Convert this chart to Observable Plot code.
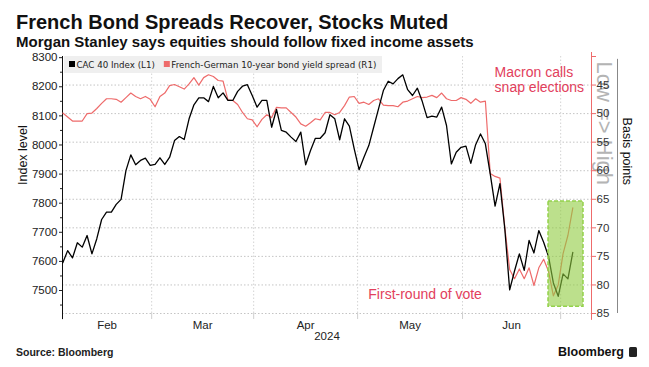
<!DOCTYPE html>
<html><head><meta charset="utf-8">
<script src="https://cdn.jsdelivr.net/npm/d3@7"></script>
<script src="https://cdn.jsdelivr.net/npm/@observablehq/plot@0.6"></script>
<style>
body{margin:0;background:#fff;}
#wrap{position:relative;width:649px;height:367px;overflow:hidden;font-family:"Liberation Sans",Arial,sans-serif;color:#111;}
#chart{position:absolute;left:0;top:0;}
.t{position:absolute;white-space:nowrap;font-weight:bold;}
#title{left:16px;top:12px;font-size:20px;line-height:20px;}
#subtitle{left:16px;top:34px;font-size:15px;line-height:15px;}
#source{left:16px;top:347px;font-size:10.5px;line-height:10.5px;color:#222;}
#logo{left:558px;top:346px;font-size:12.5px;line-height:12.5px;color:#111;}
#logo span{display:inline-block;width:8px;height:10px;background:#222;border-radius:1.5px;margin-left:5px;vertical-align:-1px;}
</style></head>
<body>
<div id="wrap">
  <div id="chart"></div>
  <div class="t" id="title">French Bond Spreads Recover, Stocks Muted</div>
  <div class="t" id="subtitle">Morgan Stanley says equities should follow fixed income assets</div>
  <div class="t" id="source">Source: Bloomberg</div>
  <div class="t" id="logo">Bloomberg<span></span></div>
</div>
<script>
// CAC 40 index level, one value per trading day (Feb 2 – Jul 3, 2024)
const cac = [7595, 7637, 7612, 7664, 7649, 7689, 7626, 7678, 7744, 7769,
  7769, 7796, 7813, 7912, 7966, 7932, 7947, 7955, 7930, 7933,
  7956, 7933, 7958, 8015, 8029, 8019, 8090, 8138, 8162, 8162,
  8149, 8201, 8162, 8179, 8153, 8153, 8184, 8202, 8207, 8170,
  8130, 8153, 8153, 8061, 8122, 8050, 8044, 8027, 8012, 8044,
  7932, 7981, 8023, 8023, 8042, 8104, 8090, 8018, 8090, 8065,
  7987, 7915, 7958, 7998, 8061, 8124, 8187, 8219, 8210, 8228,
  8241, 8190, 8170, 8195, 8150, 8094, 8099, 8096, 8130, 8067,
  7935, 7975, 7992, 7996, 7937, 8001, 8038, 8004, 7901, 7790,
  7867, 7712, 7502, 7567, 7626, 7569, 7672, 7629, 7706, 7666,
  7617, 7526, 7480, 7557, 7540, 7631];
// French-German 10-year bond yield spread, basis points
const spread = [49.9, 50.6, 51.3, 51.3, 51.3, 50.0, 49.9, 49.1, 48.2, 47.4,
  47.4, 47.5, 48.0, 47.2, 46.4, 47.0, 47.4, 47.0, 47.5, 48.8,
  47.0, 46.4, 45.1, 44.9, 45.3, 45.7, 44.8, 43.7, 45.0, 43.7,
  43.2, 43.5, 44.2, 44.3, 47.6, 47.7, 48.4, 49.8, 50.9, 51.1,
  52.3, 51.0, 50.2, 50.7, 48.9, 49.0, 49.0, 49.8, 50.6, 51.8,
  52.2, 51.6, 50.9, 51.1, 49.8, 49.8, 50.2, 49.8, 48.6, 47.1,
  47.0, 48.2, 48.0, 48.4, 47.7, 47.4, 48.5, 48.6, 48.6, 48.8,
  48.0, 47.8, 47.4, 47.0, 47.2, 47.1, 46.8, 47.2, 46.4, 47.4,
  47.7, 47.7, 47.2, 47.5, 48.2, 47.4, 48.0, 47.8, 60.5, 61.0,
  61.3, 69.9, 77.3, 78.9, 77.2, 78.9, 77.0, 80.1, 77.0, 75.5,
  77.6, 81.9, 80.0, 74.5, 71.3, 66.5];
const monthNames = ["Feb", "Mar", "Apr", "May", "Jun"];
const monthBounds = [18.3, 39.3, 60.7, 82.3, 102.5]; // trading-day position of month boundaries
const leftTicks = d3.range(7500, 8301, 100);
const leftMinor = d3.range(7450, 8251, 100);
const rightTicks = d3.range(40, 86, 5);
const gridSpread = d3.range(45, 86, 5);
const noteTop = [{i: 88.9, s: 41.7, text: "Macron calls\nsnap elections"}];
const noteMid = [{i: 62.9, s: 81.7, text: "First-round of vote"}];
const highlight = [{i1: 100.0, i2: 107.2, s1: 65.4, s2: 83.8}];
const legendItems = ["CAC 40 Index (L1)", "French-German 10-year bond yield spread (R1)"];

const X = [-0.06, 108.85];
const Y = [7421, 8304];
const S = [40, 85];
const toCac = d3.scaleLinear(S, [Y[1], Y[0]]);
const data = cac.map((v, i) => ({i, cac: v, spread: spread[i]}));
const mids = monthBounds.map((b, k) => ((k === 0 ? X[0] : monthBounds[k - 1]) + b) / 2);
const nameAt = new Map(mids.map((m, k) => [m, monthNames[k]]));
const RED = "#ee6b6b";
const NOTE = "#e2405c";

const chart = Plot.plot({
  width: 649, height: 367,
  marginTop: 56, marginBottom: 54, marginLeft: 62, marginRight: 58,
  style: {fontFamily: "Liberation Sans, Arial, sans-serif", fontSize: "11.5px", color: "#222", background: "transparent", overflow: "visible"},
  x: {domain: X, axis: null},
  y: {domain: Y, axis: null},
  marks: [
    Plot.ruleY(gridSpread.map(toCac), {stroke: "#c4c4c4", strokeDasharray: "1.5,2"}),
    Plot.ruleX(monthBounds, {stroke: "#d4d4d4", strokeDasharray: "1.5,2"}),
    Plot.axisX({ticks: monthBounds, tickSize: 6, tickFormat: () => "", stroke: "#cfcfcf", label: null}),
    Plot.axisX({ticks: mids, tickSize: 0, tickPadding: 7, tickFormat: d => nameAt.get(d), fontSize: 11.5, label: null}),
    Plot.text(["2024"], {text: d => d, frameAnchor: "bottom", dy: 26, fontSize: 11.5}),
    Plot.axisY({anchor: "left", ticks: leftTicks, tickSize: 3, tickPadding: 2, tickFormat: d3.format("d"), fontSize: 11.5, label: null}),
    Plot.axisY({anchor: "left", ticks: leftMinor, tickSize: 2, tickFormat: () => "", label: null}),
    Plot.ruleX([X[0]], {y1: 7400, y2: Y[1], stroke: "#111"}),
    Plot.text(["Index level"], {text: d => d, frameAnchor: "left", dx: -40, rotate: -90, fontSize: 12.5, fill: "#111"}),
    Plot.text(["Low => High"], {text: d => d, frameAnchor: "right", dx: 13, rotate: 90, fontSize: 22, fill: "#b4b4b4"}),
    Plot.ruleX([X[1]], {y1: toCac(39.3), y2: toCac(86.2), stroke: RED}),
    Plot.axisY({anchor: "right", ticks: rightTicks.map(toCac), tickSize: 4, tickPadding: 1, stroke: RED, fill: "#333", fontSize: 11.5, label: null,
      tickFormat: d => { const s = Math.round(toCac.invert(d)); return s === 40 ? "" : String(s); }}),
    Plot.ruleX([X[1]], {dx: 26, y1: toCac(40.5), y2: toCac(85), stroke: "#888"}),
    Plot.text(["Basis points"], {text: d => d, frameAnchor: "right", dx: 35, rotate: 90, fontSize: 12.5, fill: "#111"}),
    Plot.line(data, {x: "i", y: d => toCac(d.spread), stroke: RED, strokeWidth: 1.2}),
    Plot.line(data, {x: "i", y: "cac", stroke: "#000", strokeWidth: 1.3}),
    Plot.rect(highlight, {x1: "i1", x2: "i2", y1: d => toCac(d.s1), y2: d => toCac(d.s2),
      fill: "#8fcc3f", fillOpacity: 0.6, stroke: "#93d14a", strokeWidth: 1.5, strokeDasharray: "4,2"}),
    Plot.text(noteTop, {x: "i", y: d => toCac(d.s), text: "text", textAnchor: "start", lineAnchor: "top",
      fill: NOTE, fontSize: 14, lineHeight: 1.08}),
    Plot.text(noteMid, {x: "i", y: d => toCac(d.s), text: "text", textAnchor: "start", lineAnchor: "middle",
      fill: NOTE, fontSize: 14})
  ]
});
document.getElementById("chart").appendChild(chart);

// legend
const svg = d3.select(chart);
const lg = svg.append("g").attr("font-family", "DejaVu Sans, Verdana, sans-serif").attr("font-size", 8.7).attr("text-anchor", "start");
lg.append("rect").attr("x", 64).attr("y", 56).attr("width", 318).attr("height", 17).attr("fill", "#efefef");
const colors = ["#000", RED];
let cx = 69;
legendItems.forEach((label, k) => {
  lg.append("rect").attr("x", cx).attr("y", 61).attr("width", 6).attr("height", 6).attr("fill", colors[k]);
  const t = lg.append("text").attr("x", cx + 7.5).attr("y", 67.5).attr("fill", "#222").attr("text-anchor", "start").text(label);
  cx += 7.5 + t.node().getComputedTextLength() + 9;
});
</script>
</body></html>
